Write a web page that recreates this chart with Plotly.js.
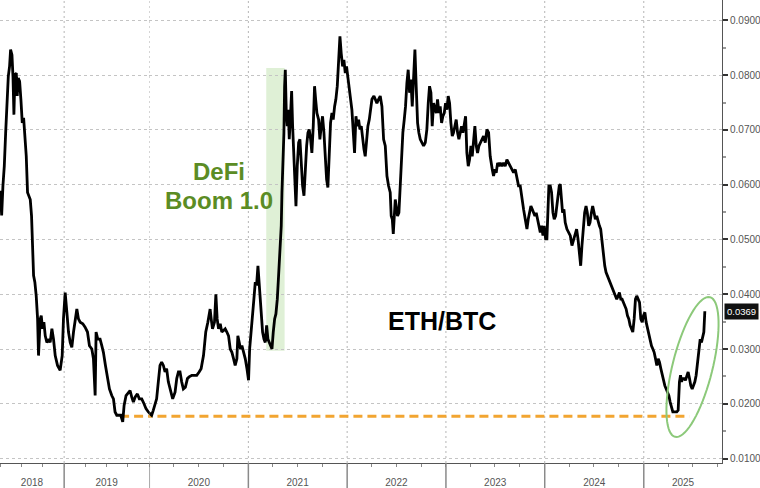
<!DOCTYPE html>
<html>
<head>
<meta charset="utf-8">
<script src="https://cdn.plot.ly/plotly-3.0.1.min.js"></script>
<style>html,body{margin:0;padding:0;background:#fff}#chart{width:760px;height:488px}</style>
</head>
<body>
<div id="chart"></div>
<script>
// ETH/BTC ratio, time as decimal year
const tYear = [
2018.250,2018.266,2018.281,2018.297,2018.313,2018.328,2018.344,2018.359,2018.371,2018.387,
2018.399,2018.410,2018.422,2018.438,2018.449,2018.461,2018.477,2018.492,2018.508,2018.524,
2018.539,2018.555,2018.570,2018.586,2018.602,2018.617,2018.629,2018.641,2018.656,2018.672,
2018.688,2018.699,2018.719,2018.731,2018.746,2018.762,2018.778,2018.797,2018.821,2018.836,
2018.856,2018.875,2018.895,2018.922,2018.953,2018.977,2018.992,2019.012,2019.032,2019.051,
2019.071,2019.090,2019.110,2019.133,2019.149,2019.168,2019.188,2019.219,2019.246,2019.274,
2019.297,2019.325,2019.344,2019.364,2019.375,2019.395,2019.422,2019.442,2019.461,2019.485,
2019.508,2019.532,2019.559,2019.579,2019.598,2019.618,2019.641,2019.665,2019.688,2019.704,
2019.727,2019.755,2019.774,2019.794,2019.813,2019.833,2019.860,2019.883,2019.911,2019.938,
2019.961,2019.989,
2020.007,2020.024,2020.040,2020.057,2020.074,2020.091,2020.108,2020.125,2020.142,2020.159,
2020.175,2020.192,2020.216,2020.236,2020.260,2020.277,2020.294,2020.310,2020.327,2020.344,
2020.364,2020.385,
2020.402,2020.429,2020.456,2020.479,2020.503,2020.523,2020.547,2020.570,2020.591,2020.614,
2020.625,2020.638,2020.658,2020.672,2020.685,2020.699,2020.716,2020.732,2020.749,2020.766,
2020.783,2020.800,2020.817,2020.834,2020.851,2020.867,2020.884,2020.894,2020.908,2020.921,
2020.935,2020.952,2020.969,2020.986,2021.002,2021.013,2021.026,2021.043,2021.056,2021.070,
2021.083,2021.097,2021.104,2021.117,2021.131,2021.144,2021.158,2021.171,2021.185,2021.198,
2021.212,2021.225,2021.239,2021.252,2021.266,2021.279,2021.293,2021.306,2021.320,2021.333,
2021.340,2021.347,2021.360,2021.367,2021.374,2021.384,2021.394,2021.404,2021.414,2021.428,
2021.438,2021.448,2021.458,2021.468,2021.482,2021.495,2021.509,2021.522,2021.536,2021.549,
2021.563,2021.576,2021.590,2021.603,2021.616,2021.630,2021.643,2021.657,2021.670,2021.681,
2021.694,2021.711,2021.724,2021.738,2021.751,2021.765,2021.778,2021.792,2021.805,2021.819,
2021.832,2021.846,2021.859,2021.873,2021.886,2021.900,2021.913,2021.927,2021.940,2021.954,
2021.967,2021.981,2021.994,2022.008,2022.021,2022.035,2022.048,2022.062,2022.075,2022.089,
2022.102,2022.116,2022.129,2022.143,2022.156,2022.170,2022.183,2022.197,2022.210,2022.224,
2022.237,2022.251,2022.271,
2022.284,2022.301,2022.318,2022.335,2022.352,2022.369,2022.386,2022.403,2022.419,2022.436,
2022.446,2022.457,2022.467,2022.477,2022.487,2022.497,2022.510,2022.524,2022.537,2022.551,
2022.564,2022.578,2022.591,2022.605,2022.618,2022.632,2022.645,2022.659,2022.672,2022.686,
2022.699,2022.713,2022.726,2022.740,2022.757,2022.774,2022.791,2022.807,2022.821,2022.834,
2022.848,2022.861,2022.875,2022.888,2022.902,2022.915,2022.929,2022.942,2022.956,2022.969,
2022.983,2022.996,2023.010,2023.023,2023.037,2023.050,2023.064,2023.077,2023.094,2023.104,
2023.118,2023.131,2023.145,2023.158,2023.172,2023.185,2023.199,2023.212,2023.226,2023.239,
2023.253,2023.266,2023.280,2023.293,2023.307,2023.320,2023.334,2023.347,2023.364,2023.381,
2023.398,2023.415,2023.432,2023.448,2023.469,2023.482,2023.496,2023.509,2023.523,2023.536,
2023.550,2023.567,2023.583,2023.600,2023.617,2023.634,2023.651,2023.668,2023.685,2023.702,
2023.718,2023.735,2023.752,2023.769,2023.786,2023.803,2023.820,2023.833,2023.847,2023.860,
2023.874,2023.887,2023.901,2023.914,2023.928,2023.941,2023.955,2023.968,2023.982,2023.995,
2024.009,2024.022,2024.032,2024.042,2024.056,2024.069,2024.083,2024.096,2024.110,2024.123,
2024.133,2024.147,2024.157,2024.167,2024.180,2024.194,2024.207,2024.224,2024.241,2024.258,
2024.275,2024.292,2024.309,2024.322,2024.336,2024.349,2024.363,2024.376,2024.390,2024.403,
2024.417,2024.430,2024.444,2024.457,2024.471,2024.484,2024.498,2024.511,2024.525,2024.538,
2024.552,2024.565,2024.579,2024.592,2024.606,2024.619,2024.633,2024.646,2024.660,2024.673,
2024.687,2024.700,2024.714,2024.727,2024.741,2024.754,2024.768,2024.781,2024.795,2024.808,
2024.822,2024.835,2024.849,2024.862,2024.876,2024.889,2024.903,2024.916,2024.929,2024.943,
2024.957,2024.970,2024.984,2024.997,2025.011,2025.024,2025.038,2025.051,2025.065,2025.078,
2025.092,2025.105,2025.119,2025.132,2025.146,2025.159,2025.173,2025.186,2025.200,2025.213,
2025.227,2025.240,2025.254,2025.267,2025.280,2025.294,2025.307,2025.321,2025.334,2025.348,
2025.361,2025.372,2025.382,2025.395,2025.409,2025.422,2025.436,2025.449,2025.463,2025.476,
2025.490,2025.503,2025.517,2025.530,2025.544,2025.557,2025.571,2025.584,2025.598,2025.608,
2025.618
];
const ethBtc = [
0.0589,0.0544,0.0598,0.0634,0.0695,0.0756,0.0798,0.0816,0.0847,0.0837,
0.0798,0.0728,0.0801,0.0804,0.0762,0.0795,0.0789,0.0756,0.0713,0.0722,
0.0689,0.0652,0.0586,0.0580,0.0573,0.0543,0.0501,0.0434,0.0422,0.0397,
0.0355,0.0288,0.0355,0.0361,0.0337,0.0349,0.0324,0.0312,0.0318,0.0312,
0.0337,0.0318,0.0288,0.0270,0.0261,0.0288,0.0355,0.0403,0.0367,0.0331,
0.0312,0.0303,0.0331,0.0361,0.0373,0.0355,0.0349,0.0346,0.0340,0.0331,
0.0306,0.0300,0.0282,0.0215,0.0331,0.0318,0.0318,0.0306,0.0294,0.0270,
0.0252,0.0227,0.0215,0.0209,0.0185,0.0179,0.0179,0.0179,0.0167,0.0197,
0.0215,0.0221,0.0224,0.0212,0.0203,0.0212,0.0218,0.0209,0.0209,0.0200,
0.0191,0.0185,
0.0182,0.0179,0.0188,0.0197,0.0209,0.0240,0.0270,0.0276,0.0270,0.0258,
0.0264,0.0240,0.0221,0.0209,0.0221,0.0246,0.0258,0.0258,0.0240,0.0227,
0.0230,0.0246,
0.0249,0.0252,0.0252,0.0252,0.0258,0.0264,0.0288,0.0331,0.0349,0.0373,
0.0355,0.0337,0.0349,0.0400,0.0355,0.0337,0.0346,0.0331,0.0334,0.0337,
0.0331,0.0324,0.0300,0.0294,0.0282,0.0270,0.0282,0.0324,0.0312,0.0300,
0.0306,0.0294,0.0282,0.0264,0.0243,0.0300,0.0324,0.0355,0.0391,0.0422,
0.0416,0.0452,0.0434,0.0391,0.0367,0.0331,0.0318,0.0312,0.0343,0.0318,
0.0312,0.0306,0.0300,0.0331,0.0355,0.0364,0.0391,0.0434,0.0476,0.0525,
0.0586,0.0622,0.0695,0.0780,0.0810,0.0731,0.0707,0.0737,0.0683,0.0731,
0.0771,0.0707,0.0658,0.0604,0.0561,0.0634,0.0677,0.0683,0.0622,0.0598,
0.0580,0.0628,0.0671,0.0695,0.0701,0.0683,0.0658,0.0707,0.0780,0.0756,
0.0731,0.0719,0.0683,0.0707,0.0725,0.0695,0.0646,0.0610,0.0595,0.0665,
0.0713,0.0731,0.0719,0.0743,0.0756,0.0780,0.0828,0.0871,0.0840,0.0816,
0.0828,0.0804,0.0816,0.0798,0.0780,0.0756,0.0737,0.0701,0.0658,0.0725,
0.0707,0.0719,0.0701,0.0707,0.0683,0.0665,0.0652,0.0683,0.0707,0.0719,
0.0743,0.0756,0.0762,
0.0756,0.0749,0.0756,0.0762,0.0743,0.0683,0.0671,0.0616,0.0598,0.0586,
0.0543,0.0537,0.0510,0.0543,0.0573,0.0561,0.0543,0.0549,0.0598,0.0652,
0.0695,0.0719,0.0743,0.0786,0.0810,0.0768,0.0792,0.0743,0.0792,0.0847,
0.0780,0.0713,0.0695,0.0683,0.0677,0.0671,0.0677,0.0701,0.0749,0.0780,
0.0768,0.0707,0.0749,0.0737,0.0731,0.0756,0.0731,0.0743,0.0713,0.0725,
0.0731,0.0749,0.0737,0.0762,0.0749,0.0713,0.0689,0.0695,0.0707,0.0719,
0.0695,0.0683,0.0695,0.0707,0.0695,0.0707,0.0725,0.0658,0.0634,0.0646,
0.0671,0.0652,0.0683,0.0707,0.0671,0.0658,0.0671,0.0677,0.0683,0.0689,
0.0677,0.0701,0.0695,0.0652,0.0628,0.0616,0.0628,0.0622,0.0640,0.0634,
0.0640,0.0634,0.0640,0.0634,0.0646,0.0640,0.0634,0.0628,0.0622,0.0628,
0.0610,0.0598,0.0598,0.0573,0.0555,0.0537,0.0519,0.0537,0.0549,0.0561,
0.0555,0.0549,0.0543,0.0549,0.0537,0.0531,0.0513,0.0525,0.0507,0.0525,
0.0501,0.0501,0.0549,0.0598,0.0598,0.0586,0.0549,0.0537,0.0543,0.0561,
0.0579,0.0598,0.0601,0.0573,0.0549,0.0555,0.0531,0.0519,0.0513,0.0507,
0.0489,0.0501,0.0513,0.0519,0.0501,0.0476,0.0452,0.0489,0.0525,0.0549,
0.0561,0.0549,0.0525,0.0531,0.0549,0.0561,0.0549,0.0537,0.0543,0.0531,
0.0525,0.0519,0.0495,0.0476,0.0452,0.0440,0.0434,0.0428,0.0422,0.0416,
0.0410,0.0403,0.0397,0.0391,0.0397,0.0403,0.0391,0.0391,0.0385,0.0379,
0.0373,0.0361,0.0355,0.0343,0.0337,0.0331,0.0355,0.0391,0.0397,0.0391,
0.0385,0.0355,0.0349,0.0361,0.0367,0.0349,0.0337,0.0324,0.0312,0.0306,
0.0300,0.0294,0.0282,0.0270,0.0282,0.0276,0.0264,0.0252,0.0240,0.0233,
0.0227,0.0221,0.0215,0.0203,0.0191,0.0185,0.0185,0.0185,0.0185,0.0188,
0.0240,0.0252,0.0240,0.0246,0.0246,0.0243,0.0252,0.0258,0.0246,0.0233,
0.0227,0.0233,0.0240,0.0252,0.0276,0.0300,0.0318,0.0312,0.0324,0.0331,
0.0369
];
const lastValue = 0.0369;
const supportLevel = 0.0177;
const supportStart = 2019.657, supportEnd = 2025.463;
const defiBand = {start: 2021.181, end: 2021.367, low: 0.0297, high: 0.0813};
const yearLabels = ['2018','2019','2020','2021','2022','2023','2024','2025'];
const yearLabelPos = ['2018-08-16','2019-07-02','2020-07-02','2021-07-02','2022-07-02','2023-07-02','2024-07-02','2025-05-26'];
const yearStarts = [2019,2020,2021,2022,2023,2024,2025];

function toDate(t){
  const y=Math.floor(t), s=Date.UTC(y,0,1), e=Date.UTC(y+1,0,1);
  return new Date(s+(t-y)*(e-s)).toISOString().slice(0,19).replace('T',' ');
}
const dates = tYear.map(toDate);

const W=722, H=463; // plot area size in px
const split = 149.3/W;
const FONT = 'Arial, "Liberation Sans", sans-serif';

const lineStyle = {color:'#000', width:2.8};
const traces = [
  {x:dates, y:ethBtc, xaxis:'x', yaxis:'y', type:'scatter', mode:'lines', line:lineStyle, hoverinfo:'skip'},
  {x:dates, y:ethBtc, xaxis:'x2', yaxis:'y', type:'scatter', mode:'lines', line:lineStyle, hoverinfo:'skip'},
];
const supX = [toDate(supportStart), toDate(supportEnd)], supY=[supportLevel, supportLevel];
['x','x2'].forEach(ax=>traces.unshift({x:supX, y:supY, xaxis:ax, yaxis:'y', type:'scatter', mode:'lines',
  line:{color:'#f2a531', width:3, dash:'9px,5px'}, hoverinfo:'skip'}));

const shapes = [];
shapes.push({type:'rect', xref:'x2', yref:'y', x0:toDate(defiBand.start), x1:toDate(defiBand.end),
  y0:defiBand.low, y1:defiBand.high, fillcolor:'rgba(196,228,180,0.55)', line:{width:0}, layer:'below'});
yearStarts.forEach(y=>{
  const ax = y<2020 ? 'x':'x2';
  const d = y+'-01-01';
  shapes.push({type:'line', xref:ax, yref:'paper', x0:d, x1:d, y0:0, y1:1,
    line:{color:'#b5b5b5', width:1, dash:'2px,3px'}, layer:'below'});
  shapes.push({type:'line', xref:ax, yref:'paper', x0:d, x1:d, y0:0, y1:-25/H,
    line:{color:'#8a8a8a', width:1.5}});
});
// ellipse highlight (pixel geometry of plot area -> paper)
(function(){
  const cx=692.5, cy=367, a=72, b=20, phi=14*Math.PI/180;
  let p='';
  for(let k=0;k<=72;k++){
    const th=2*Math.PI*k/72;
    const px=cx + a*Math.cos(th)*Math.sin(phi) + b*Math.sin(th)*Math.cos(phi);
    const py=cy - a*Math.cos(th)*Math.cos(phi) + b*Math.sin(th)*Math.sin(phi);
    p += (k===0?'M':'L') + (px/W).toFixed(5)+','+(1-py/H).toFixed(5);
  }
  shapes.push({type:'path', xref:'paper', yref:'paper', path:p+'Z', line:{color:'#8cc97a', width:2}});
})();

const xCommon = {
  type:'date', showgrid:false, zeroline:false, showline:true, linecolor:'#555', linewidth:1,
  tickmode:'array', ticktext:yearLabels, tickvals:yearLabelPos,
  ticks:'outside', ticklen:10, tickcolor:'rgba(0,0,0,0)',
  tickfont:{family:FONT, size:10, color:'#555'},
  minor:{dtick:'M3', tick0:'2018-01-01', ticks:'outside', ticklen:3, tickcolor:'#888', showgrid:false},
  anchor:'y', fixedrange:true
};
const layout = {
  width:760, height:488, margin:{l:0, r:38, t:0, b:25},
  paper_bgcolor:'#fff', plot_bgcolor:'#fff', showlegend:false,
  xaxis: Object.assign({}, xCommon, {domain:[0, split], range:['2018-04-01','2020-01-01']}),
  xaxis2: Object.assign({}, xCommon, {domain:[split, 1], range:['2020-01-01','2025-10-17']}),
  yaxis: {
    side:'right', anchor:'x2', range:[0.00918, 0.09374],
    tick0:0.01, dtick:0.01, tickformat:'.4f',
    showgrid:true, gridcolor:'#c4c4c4', gridwidth:1, griddash:'3px,3px', zeroline:false,
    showline:true, linecolor:'#555', linewidth:1,
    ticks:'outside', ticklen:5, tickwidth:2, tickcolor:'#333',
    tickfont:{family:FONT, size:10, color:'#555'},
    minor:{dtick:0.005, tick0:0.005, ticks:'outside', ticklen:3, tickcolor:'#999', showgrid:false},
    fixedrange:true
  },
  shapes: shapes,
  annotations: [
    {xref:'paper', yref:'paper', x:219/W, y:1-172/H, text:'<b>DeFi</b>', showarrow:false,
     font:{family:FONT, size:24, color:'#5b8c24'}, xanchor:'center', yanchor:'middle'},
    {xref:'paper', yref:'paper', x:219/W, y:1-200/H, text:'<b>Boom 1.0</b>', showarrow:false,
     font:{family:FONT, size:24, color:'#5b8c24'}, xanchor:'center', yanchor:'middle'},
    {xref:'paper', yref:'paper', x:442/W, y:1-321/H, text:'<b>ETH/BTC</b>', showarrow:false,
     font:{family:FONT, size:25, color:'#000'}, xanchor:'center', yanchor:'middle'},
    {xref:'paper', yref:'y', x:1, y:lastValue, xanchor:'left', xshift:2, yanchor:'middle',
     text:lastValue.toFixed(4), showarrow:false, bgcolor:'#111', borderpad:2,
     font:{family:FONT, size:9.5, color:'#fff'}}
  ]
};
Plotly.newPlot('chart', traces, layout, {displayModeBar:false, staticPlot:true});
</script>
</body>
</html>
